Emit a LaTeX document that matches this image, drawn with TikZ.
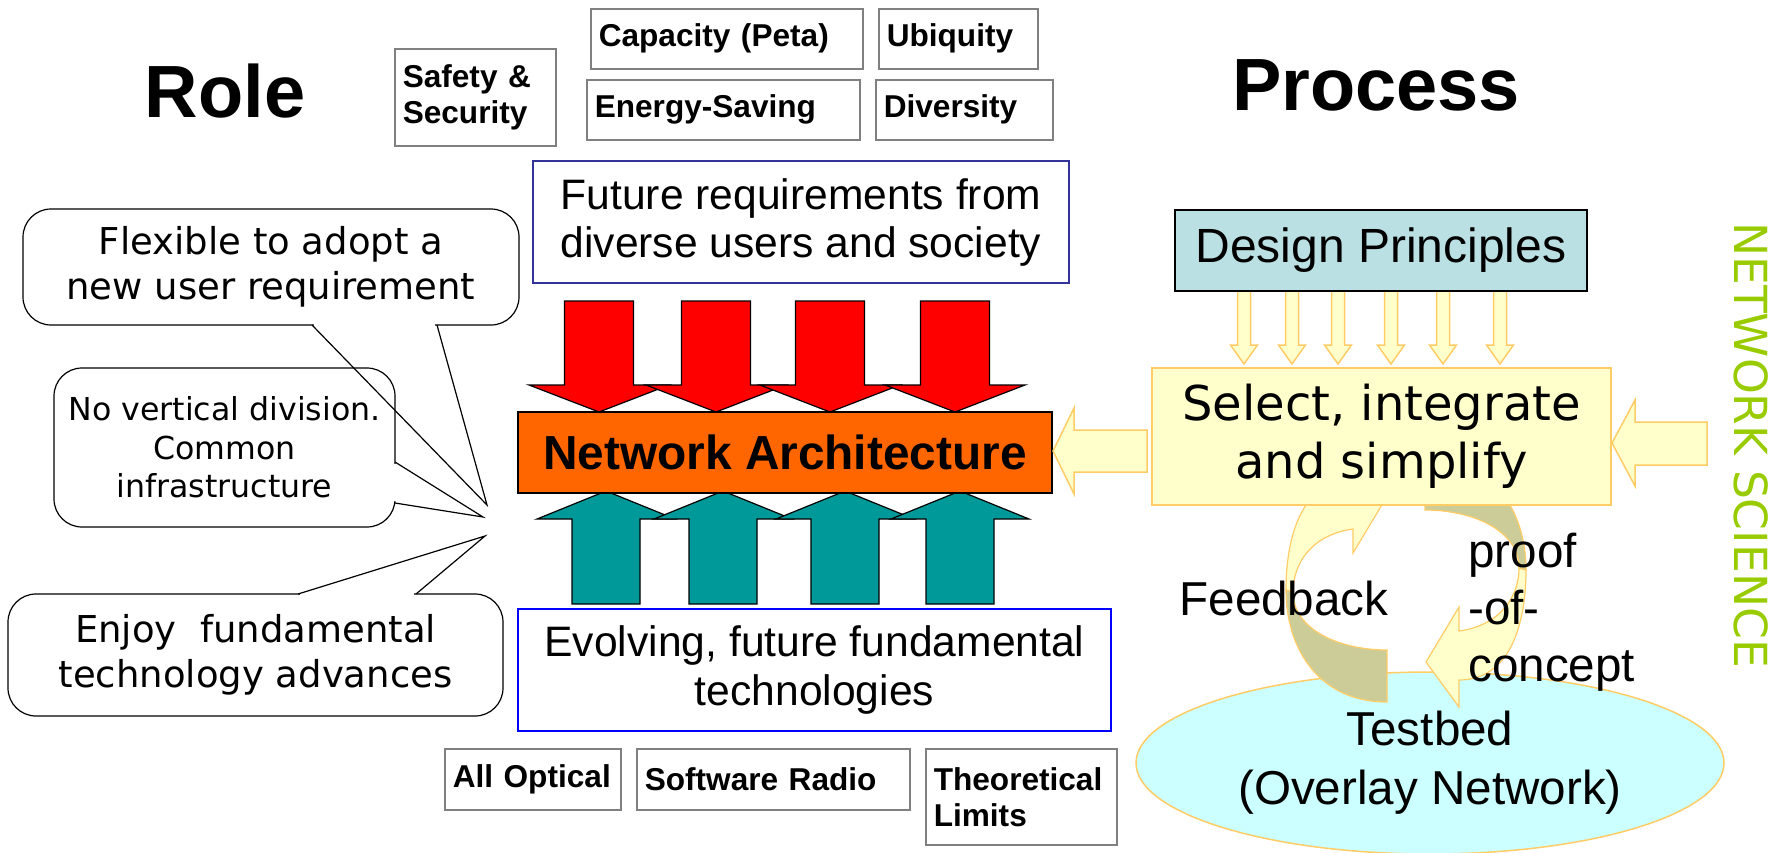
\documentclass[tikz,border=0pt]{standalone}
\usepackage{fontspec}
\usepackage{xcolor}
\setmainfont{Liberation Sans}
\newfontfamily\verd{DejaVu Sans}
\definecolor{archorange}{HTML}{FF6600}
\definecolor{techteal}{HTML}{009999}
\definecolor{princblue}{HTML}{BBE0E3}
\definecolor{paleyellow}{HTML}{FFFFCC}
\definecolor{edgeyellow}{HTML}{FFCC66}
\definecolor{backkhaki}{HTML}{CCCC99}
\definecolor{bedcyan}{HTML}{CCFFFF}
\definecolor{sciencegreen}{HTML}{99CC00}
\definecolor{reqnavy}{HTML}{333399}
\newcommand\loopribbon{%
	\draw[yarrow,line width=0.6pt] (1353,480) .. controls (1300,480) and (1286,540) .. (1286,590) -- (1293,592) .. controls (1293,565) and (1310,535) .. (1353,529) -- (1353,553) -- (1386,498) -- (1353,453) -- cycle;
	\draw[fill=backkhaki,draw=edgeyellow,line width=0.6pt] (1286,590) .. controls (1286,650) and (1320,702) .. (1387,702) -- (1387,650) .. controls (1340,650) and (1293,630) .. (1293,592) -- cycle;}
\usetikzlibrary{shapes.geometric}

\begin{document}
\begin{tikzpicture}[x=0.5pt,y=-0.5pt,
		title/.style={inner sep=0pt,font=\bfseries\fontsize{37}{42}\selectfont},
		tag/.style={draw=gray,line width=0.75pt,anchor=north west,inner xsep=4pt,inner ysep=0pt,align=left,font=\bfseries\fontsize{15.8}{18}\selectfont},
		bubble/.style={draw,rounded corners=14pt,line width=0.6pt,align=center,inner sep=0pt},
		yarrow/.style={fill=paleyellow,draw=edgeyellow,line width=0.75pt},
		redarrow/.style={fill=red,draw=black,line width=0.6pt},
		tealarrow/.style={fill=techteal,draw=black,line width=0.6pt}]
	\useasboundingbox (0,0) rectangle (1777,852);

	\node (role) [title] at (225,91) {Role};
	\node (process) [title] at (1376,85) {Process};

	\node (safety) [tag,text width=72.5pt,minimum height=48.5pt] at (394,48) {Safety \&\\Security};
	\node (capacity) [tag,text width=128pt,minimum height=30pt] at (590,8) {Capacity (Peta)};
	\node (ubiquity) [tag,text width=71.5pt,minimum height=30pt] at (878,8) {Ubiquity};
	\node (energy) [tag,text width=128.5pt,minimum height=30pt] at (586,79) {Energy-Saving};
	\node (diversity) [tag,text width=80.5pt,minimum height=30pt] at (875,79) {Diversity};

	\node (future) [draw=reqnavy,line width=0.6pt,minimum width=268pt,minimum height=61pt,align=center,font=\fontsize{21.3}{24}\selectfont] at (801,222) {Future requirements from\\diverse users and society};

	\foreach \x in {599,716,830,955}
		\draw[redarrow] ({\x-34.5},301) -- ({\x+34.5},301) -- ({\x+34.5},385) -- ({\x+70},385) -- (\x,412) -- ({\x-70},385) -- ({\x-34.5},385) -- cycle;
	\foreach \x in {606,723,845,960}
		\draw[tealarrow] ({\x-34},604) -- ({\x+34},604) -- ({\x+34},519) -- ({\x+69},519) -- (\x,491) -- ({\x-69},519) -- ({\x-34},519) -- cycle;

	\node (arch) [draw,fill=archorange,line width=1pt,minimum width=267pt,minimum height=40.5pt,font=\bfseries\fontsize{23.9}{28}\selectfont] at (785,452.5) {Network Architecture};

	\node (evolve) [draw=blue,line width=1pt,minimum width=296.5pt,minimum height=61pt,align=center,font=\fontsize{21.3}{24.5}\selectfont] at (814.5,670) {Evolving, future fundamental\\technologies};

	\node (optical) [tag,text width=80pt,minimum height=30.5pt] at (444,748) {All Optical};
	\node (radio) [tag,text width=128.5pt,minimum height=30.5pt] at (636,748) {Software Radio};
	\node (limits) [tag,text width=87.5pt,minimum height=48pt] at (925,748) {Theoretical\\Limits};

	\node (flexible) [bubble,minimum width=248pt,minimum height=58pt,font=\verd\fontsize{18.5}{22.7}\selectfont] at (271,267) {Flexible to adopt a\\new user requirement};
	\coordinate (tipa) at (487,505);
	\draw[white,line width=1.5pt] (314,325) -- (435,325);
	\draw[line width=0.6pt] (312,325) -- (tipa) -- (437,325);

	\node (division) [bubble,minimum width=170.5pt,minimum height=79.5pt,font=\verd\fontsize{15.8}{19.3}\selectfont] at (224.5,447.5) {No vertical division.\\Common\\infrastructure};
	\coordinate (tipb) at (483,517);
	\draw[white,line width=1.5pt] (395,464) -- (395,501);
	\draw[line width=0.6pt] (395,462) -- (tipb) -- (395,503);

	\node (enjoy) [bubble,minimum width=247.5pt,minimum height=61pt,font=\verd\fontsize{18.5}{22.7}\selectfont] at (255.5,655) {Enjoy\ \ fundamental\\technology advances};
	\coordinate (tipc) at (485,536);
	\draw[white,line width=1.5pt] (300,594) -- (414,594);
	\draw[line width=0.6pt] (298,594) -- (tipc) -- (416,594);

	\foreach \x in {1244,1292,1338,1391,1443,1500}
		\draw[yarrow] ({\x-6.5},291) -- ({\x+6.5},291) -- ({\x+6.5},345) -- ({\x+13.5},345) -- (\x,364) -- ({\x-13.5},345) -- ({\x-6.5},345) -- cycle;
	\node (design) [draw,fill=princblue,line width=0.75pt,minimum width=206pt,minimum height=40.5pt,font=\fontsize{24}{28}\selectfont] at (1381,250.5) {Design Principles};

	\node (testbed) [ellipse,draw=edgeyellow,fill=bedcyan,line width=0.75pt,minimum width=294pt,minimum height=91pt,inner sep=0pt,align=center,font=\fontsize{23.8}{29.5}\selectfont] at (1430,763) {Testbed\\(Overlay Network)};

	\loopribbon
	\begin{scope}[rotate around={180:(1406,580)}]
		\loopribbon
	\end{scope}

	\node (select) [draw=edgeyellow,fill=paleyellow,line width=0.75pt,minimum width=229.5pt,minimum height=68.5pt,align=center,font=\verd\fontsize{24}{29}\selectfont] at (1381.5,436.5) {Select, integrate\\and simplify};

	\draw[yarrow] (1147,430) -- (1074,430) -- (1074,408) -- (1053,451) -- (1074,494) -- (1074,472) -- (1147,472) -- cycle;
	\draw[yarrow] (1707,422) -- (1635,422) -- (1635,400) -- (1612,443) -- (1635,486) -- (1635,465) -- (1707,465) -- cycle;

	\node (feedback) [anchor=base,inner sep=0pt,font=\fontsize{23.8}{28.5}\selectfont] at (1284,615) {Feedback};
	\node (proof) [anchor=west,inner sep=0pt,align=left,font=\fontsize{23.8}{28.5}\selectfont] at (1468,612) {proof\\-of-\\concept};

	\node (science) [rotate=-90,inner sep=0pt,text=sciencegreen,font=\verd\fontsize{22.8}{27}\selectfont] at (1751,445) {NETWORK SCIENCE};
\end{tikzpicture}
\end{document}
